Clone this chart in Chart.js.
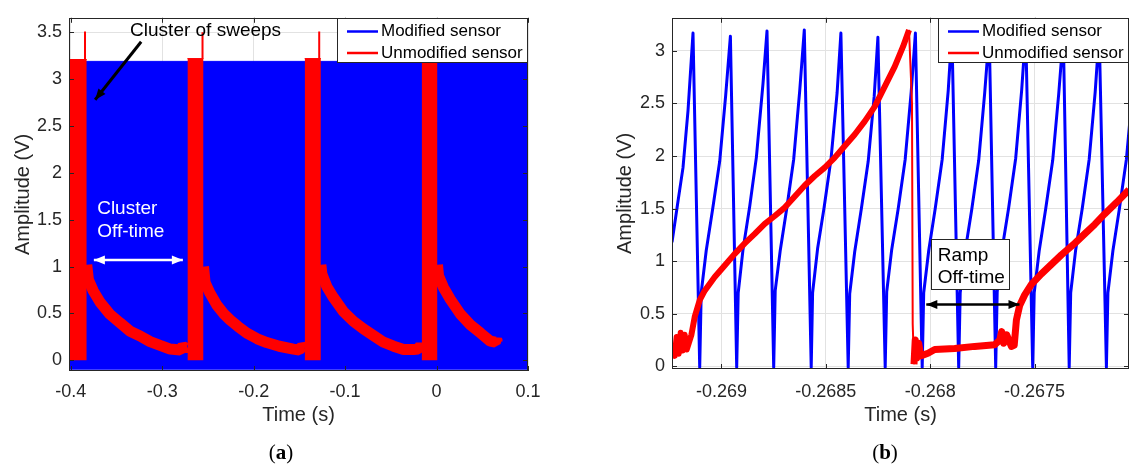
<!DOCTYPE html>
<html>
<head>
<meta charset="utf-8">
<title>Sensor output</title>
<script src="https://cdn.jsdelivr.net/npm/chart.js"></script>
<style>
  body { margin: 0; background: #fff; width: 1132px; height: 467px; position: relative; overflow: hidden; }
  .panel { position: absolute; top: 0; height: 467px; }
  #panelA { left: 0; width: 560px; }
  #panelB { left: 560px; width: 572px; }
  .caption { position: absolute; top: 440px; transform: translateX(-50%);
             font-family: "Liberation Serif", "DejaVu Serif", serif; font-size: 21px; color: #000; }
  .caption b { font-weight: bold; }
</style>
</head>
<body>
<div class="panel" id="panelA"><canvas id="chartA"></canvas></div>
<div class="panel" id="panelB"><canvas id="chartB"></canvas></div>
<div class="caption" style="left:281px">(<b>a</b>)</div>
<div class="caption" style="left:885px">(<b>b</b>)</div>
<script>
const seriesNames = ['Modified sensor', 'Unmodified sensor'];

// ---- (a) whole record ----
const timeTicksA = [-0.4, -0.3, -0.2, -0.1, 0, 0.1];
const ampTicksA = [0, 0.5, 1, 1.5, 2, 2.5, 3, 3.5];

// modified sensor: dense sweeps, kept as an envelope
const bandTime = [-0.4019, 0.1];
const bandTop = [3.19, 3.19];
const bandFloor = -0.1;

// unmodified sensor: sweep clusters
const clusterStart = [-0.4019, -0.2724, -0.1442, -0.0163];
const clusterEnd = [-0.3825, -0.2548, -0.1265, 0.0010];
const clusterTop = [3.21, 3.22, 3.22, 3.2];
const spikeTime = [-0.3844, -0.2559, -0.1283];
const spikeTop = [3.51, 3.5, 3.51];

// unmodified sensor: decay between clusters
const decay1Time = [-0.3825, -0.3807, -0.3753, -0.3679, -0.3570, -0.3461, -0.3351, -0.3242, -0.3132, -0.3023, -0.2913, -0.2804, -0.2775, -0.2745, -0.2724];
const decay1Amp = [1.02, 0.86, 0.74, 0.62, 0.49, 0.40, 0.31, 0.26, 0.20, 0.16, 0.12, 0.11, 0.15, 0.13, 0.14];
const decay2Time = [-0.2548, -0.2531, -0.2480, -0.2403, -0.2330, -0.2257, -0.2170, -0.2074, -0.1960, -0.1856, -0.1720, -0.1565, -0.1500, -0.1470, -0.1442];
const decay2Amp = [1.0, 0.83, 0.72, 0.59, 0.50, 0.43, 0.36, 0.29, 0.23, 0.19, 0.15, 0.12, 0.11, 0.15, 0.13];
const decay3Time = [-0.1265, -0.1254, -0.1199, -0.1127, -0.1018, -0.0908, -0.0799, -0.0689, -0.0580, -0.0470, -0.0361, -0.0252, -0.0200, -0.0175, -0.0163];
const decay3Amp = [1.02, 0.92, 0.785, 0.67, 0.52, 0.415, 0.335, 0.264, 0.193, 0.151, 0.116, 0.116, 0.12, 0.16, 0.14];
const decay4Time = [0.0010, 0.0022, 0.0077, 0.0150, 0.0260, 0.0369, 0.0478, 0.0588, 0.0643, 0.0655, 0.0661];
const decay4Amp = [1.02, 0.90, 0.775, 0.652, 0.494, 0.38, 0.293, 0.204, 0.193, 0.23, 0.2];

// ---- (b) zoom on one ramp ----
const timeTicksB = [-0.269, -0.2685, -0.268, -0.2675];
const ampTicksB = [0, 0.5, 1, 1.5, 2, 2.5, 3];

const modTime = [
  -0.2692366, -0.2692079, -0.2691839, -0.2691600, -0.2691360,
  -0.2691039, -0.2690967, -0.2690728, -0.2690417, -0.2690081, -0.2689794, -0.2689569,
  -0.2689267, -0.2689195, -0.2688966, -0.2688645, -0.2688324, -0.2688008, -0.2687816,
  -0.2687495, -0.2687423, -0.2687184, -0.2686873, -0.2686537, -0.2686250, -0.2686030,
  -0.2685699, -0.2685632, -0.2685393, -0.2685081, -0.2684746, -0.2684459, -0.2684277,
  -0.2683927, -0.2683855, -0.2683616, -0.2683305, -0.2682969, -0.2682682, -0.2682505,
  -0.2682155, -0.2682083, -0.2681844, -0.2681533, -0.2681197, -0.2680910, -0.2680709,
  -0.2680383, -0.2680311, -0.2680072, -0.2679761, -0.2679425, -0.2679138, -0.2678961,
  -0.2678635, -0.2678563, -0.2678324, -0.2678012, -0.2677677, -0.2677390, -0.2677174,
  -0.2676863, -0.2676791, -0.2676552, -0.2676240, -0.2675905, -0.2675618, -0.2675426,
  -0.2675091, -0.2675019, -0.2674780, -0.2674468, -0.2674133, -0.2673846, -0.2673625,
  -0.2673343, -0.2673271, -0.2673032, -0.2672720, -0.2672385, -0.2672098, -0.2671906,
  -0.2671561, -0.2671489, -0.2671250, -0.2670939, -0.2670603, -0.2670316
];
const modAmp = [
  1.18, 1.57, 1.89, 2.43, 3.17,
  -0.01, 0.70, 1.10, 1.50, 1.95, 2.58, 3.14,
  -0.01, 0.70, 1.11, 1.52, 1.99, 2.69, 3.19,
  -0.01, 0.72, 1.10, 1.50, 1.97, 2.62, 3.20,
  -0.01, 0.70, 1.12, 1.51, 1.98, 2.60, 3.17,
  -0.01, 0.69, 1.09, 1.49, 1.95, 2.57, 3.13,
  -0.01, 0.71, 1.11, 1.50, 1.97, 2.61, 3.17,
  -0.01, 0.70, 1.10, 1.50, 1.97, 2.62, 3.18,
  -0.01, 0.70, 1.10, 1.49, 1.96, 2.60, 3.16,
  -0.01, 0.71, 1.12, 1.51, 1.98, 2.63, 3.19,
  -0.01, 0.70, 1.10, 1.50, 1.96, 2.59, 3.15,
  -0.01, 0.70, 1.11, 1.50, 1.97, 2.61, 3.17,
  -0.01, 0.70, 1.10, 1.50, 1.97, 2.60
];

// unmodified sensor: one slow ramp, its reset, off-time and the next ramp
const rampTime = [
  -0.2692366, -0.2692237, -0.2692141, -0.2692045, -0.2691949, -0.2691853, -0.2691758, -0.2691662,
  -0.2691566, -0.2691437, -0.2691279, -0.2691039, -0.2690800, -0.2690321, -0.2689842, -0.2689363,
  -0.2688884, -0.2688405, -0.2687926, -0.2687447, -0.2686968, -0.2686489, -0.2686011, -0.2685532,
  -0.2685053, -0.2684574, -0.2684095, -0.2683616, -0.2683137, -0.2682658, -0.2682179, -0.2681700,
  -0.2681303, -0.2681015
];
const rampAmp = [
  0.16, 0.10, 0.28, 0.12, 0.32, 0.15, 0.30, 0.16,
  0.22, 0.30, 0.47, 0.63, 0.72, 0.85, 0.96, 1.07,
  1.17, 1.26, 1.355, 1.43, 1.51, 1.615, 1.72, 1.81,
  1.89, 1.985, 2.095, 2.205, 2.33, 2.47, 2.66, 2.85,
  3.04, 3.2
];
const resetTime = [-0.2681015, -0.2680872, -0.2680838, -0.2680776];
const resetAmp = [3.2, 2.5, 0.4, 0.02];
const idleTime = [
  -0.2680776, -0.2680718, -0.2680647, -0.2680551, -0.2680455, -0.2680105, -0.2679784, -0.2678827,
  -0.2677869, -0.2676911, -0.2676671, -0.2676576, -0.2676480, -0.2676336, -0.2676111, -0.2675977,
  -0.2675872, -0.2675714, -0.2675474, -0.2675153, -0.2674674, -0.2674195, -0.2673716, -0.2673079,
  -0.2672601, -0.2672122, -0.2671643, -0.2671068, -0.2670479
];
const idleAmp = [
  0.02, 0.25, 0.08, 0.22, 0.10, 0.125, 0.16, 0.17,
  0.19, 0.205, 0.25, 0.33, 0.22, 0.30, 0.19, 0.20,
  0.44, 0.58, 0.68, 0.78, 0.88, 0.97, 1.06, 1.17,
  1.26, 1.35, 1.45, 1.56, 1.68
];

const BLUE = '#0000ff';
const RED = '#ff0000';
const AXIS = '#262626';
const FONT = '"Liberation Sans", Arial, sans-serif';

function pts(xs, ys) {
  return xs.map((x, i) => ({ x: x, y: ys[i] }));
}

function line(xs, ys, color, width, join) {
  return { data: pts(xs, ys), borderColor: color, backgroundColor: color, borderWidth: width,
           showLine: true, pointRadius: 0, fill: false, borderJoinStyle: join || 'round', tension: 0 };
}

function fmt(v) {
  return String(Math.round(v * 1e4) / 1e4);
}

function drawArrow(ctx, x1, y1, x2, y2, color, width, both) {
  const head = (xa, ya, xb, yb) => {
    const ang = Math.atan2(yb - ya, xb - xa);
    ctx.beginPath();
    ctx.moveTo(xb, yb);
    ctx.lineTo(xb - 11 * Math.cos(ang) + 4.5 * Math.sin(ang), yb - 11 * Math.sin(ang) - 4.5 * Math.cos(ang));
    ctx.lineTo(xb - 11 * Math.cos(ang) - 4.5 * Math.sin(ang), yb - 11 * Math.sin(ang) + 4.5 * Math.cos(ang));
    ctx.closePath();
    ctx.fill();
  };
  ctx.strokeStyle = color;
  ctx.fillStyle = color;
  ctx.lineWidth = width;
  ctx.beginPath();
  ctx.moveTo(x1, y1);
  ctx.lineTo(x2, y2);
  ctx.stroke();
  head(x1, y1, x2, y2);
  if (both) head(x2, y2, x1, y1);
}

// box, inward ticks, notes and a MATLAB-like legend
const matlabAxes = {
  id: 'matlabAxes',
  afterDatasetsDraw(chart, args, opts) {
    const { ctx, chartArea: a, scales: { x, y } } = chart;
    ctx.save();
    ctx.strokeStyle = AXIS;
    ctx.lineWidth = 1;
    ctx.beginPath();
    x.ticks.forEach(t => {
      const px = Math.round(x.getPixelForValue(t.value)) + 0.5;
      ctx.moveTo(px, a.bottom); ctx.lineTo(px, a.bottom - 5);
      ctx.moveTo(px, a.top); ctx.lineTo(px, a.top + 5);
    });
    y.ticks.forEach(t => {
      const py = Math.round(y.getPixelForValue(t.value)) + 0.5;
      ctx.moveTo(a.left, py); ctx.lineTo(a.left + 5, py);
      ctx.moveTo(a.right, py); ctx.lineTo(a.right - 5, py);
    });
    ctx.stroke();
    ctx.strokeRect(Math.round(a.left) + 0.5, Math.round(a.top) + 0.5,
                   Math.round(a.width) - 1, Math.round(a.height) - 1);

    (opts.notes || []).forEach(n => {
      if (n.kind === 'box') {
        const x0 = x.getPixelForValue(n.x0), y0 = y.getPixelForValue(n.y0);
        const x1 = x.getPixelForValue(n.x1), y1 = y.getPixelForValue(n.y1);
        ctx.fillStyle = '#fff';
        ctx.fillRect(x0, y0, x1 - x0, y1 - y0);
        ctx.strokeStyle = AXIS;
        ctx.lineWidth = 1;
        ctx.strokeRect(Math.round(x0) + 0.5, Math.round(y0) + 0.5, Math.round(x1 - x0), Math.round(y1 - y0));
      } else if (n.kind === 'text') {
        ctx.fillStyle = n.color;
        ctx.font = '19px ' + FONT;
        ctx.textAlign = 'left';
        ctx.textBaseline = 'middle';
        ctx.fillText(n.text, x.getPixelForValue(n.x), y.getPixelForValue(n.y));
      } else if (n.kind === 'arrow') {
        drawArrow(ctx, x.getPixelForValue(n.x0), y.getPixelForValue(n.y0),
                  x.getPixelForValue(n.x1), y.getPixelForValue(n.y1), n.color, n.width, n.both);
      }
    });

    const lg = opts.legend;
    if (lg) {
      const x0 = Math.round(a.right - lg.width), y0 = Math.round(a.top);
      ctx.fillStyle = '#fff';
      ctx.fillRect(x0, y0, lg.width, lg.height);
      ctx.strokeStyle = AXIS;
      ctx.lineWidth = 1;
      ctx.strokeRect(x0 + 0.5, y0 + 0.5, lg.width - 1, lg.height - 1);
      [BLUE, RED].forEach((c, i) => {
        const yy = y0 + lg.rows[i];
        ctx.strokeStyle = c;
        ctx.lineWidth = 2.5;
        ctx.beginPath();
        ctx.moveTo(x0 + lg.lineFrom, yy);
        ctx.lineTo(x0 + lg.lineTo, yy);
        ctx.stroke();
        ctx.fillStyle = '#000';
        ctx.font = '17px ' + FONT;
        ctx.textAlign = 'left';
        ctx.textBaseline = 'middle';
        ctx.fillText(seriesNames[i], x0 + lg.textAt, yy);
      });
    }
    ctx.restore();
  }
};

function axes(cfg) {
  const tickFont = { family: FONT, size: 18 };
  const titleFont = { family: FONT, size: 20 };
  return {
    x: {
      type: 'linear', min: cfg.xMin, max: cfg.xMax,
      grid: { color: '#e2e2e2', drawTicks: false },
      border: { display: false },
      afterBuildTicks: s => { s.ticks = cfg.xTicks.map(v => ({ value: v })); },
      ticks: { color: AXIS, font: tickFont, padding: cfg.xPad, maxRotation: 0, autoSkip: false, callback: fmt },
      title: { display: true, text: 'Time (s)', color: AXIS, font: titleFont, padding: 0 },
      afterFit: s => { s.height = cfg.xHeight; }
    },
    y: {
      type: 'linear', min: cfg.yMin, max: cfg.yMax,
      grid: { color: '#e2e2e2', drawTicks: false },
      border: { display: false },
      afterBuildTicks: s => { s.ticks = cfg.yTicks.map(v => ({ value: v })); },
      ticks: { color: AXIS, font: tickFont, padding: 7, autoSkip: false, callback: fmt },
      title: { display: true, text: 'Amplitude (V)', color: AXIS, font: titleFont, padding: 0 },
      afterFit: s => { s.width = cfg.yWidth; }
    }
  };
}

function baseOptions(cfg, padding, notes) {
  return {
    responsive: true,
    maintainAspectRatio: false,
    animation: false,
    events: [],
    layout: { padding: padding },
    scales: axes(cfg),
    plugins: {
      legend: { display: false },
      tooltip: { enabled: false },
      matlabAxes: {
        legend: { width: 191, height: 45, rows: [13.5, 35], lineFrom: 10, lineTo: 41, textAt: 44 },
        notes: notes
      }
    }
  };
}

// ---- chart (a) ----
const dsA = [];
clusterStart.forEach((s, i) => {
  dsA.push({ data: pts([s, clusterEnd[i]], [clusterTop[i], clusterTop[i]]), borderColor: RED,
             backgroundColor: RED, borderWidth: 1, showLine: true, pointRadius: 0, fill: { value: 0 } });
});
spikeTime.forEach((t, i) => {
  dsA.push(line([t, t], [clusterTop[i], spikeTop[i]], RED, 2));
});
[[decay1Time, decay1Amp], [decay2Time, decay2Amp], [decay3Time, decay3Amp], [decay4Time, decay4Amp]]
  .forEach(d => dsA.push(line(d[0], d[1], RED, 11, 'bevel')));
dsA.push({ label: seriesNames[0], data: pts(bandTime, bandTop), borderColor: BLUE, backgroundColor: BLUE,
           borderWidth: 1, showLine: true, pointRadius: 0, fill: { value: bandFloor } });
dsA[0].label = seriesNames[1];

new Chart(document.getElementById('chartA'), {
  type: 'scatter',
  data: { datasets: dsA },
  options: baseOptions(
    { xMin: -0.4019, xMax: 0.1, xTicks: timeTicksA, yMin: -0.114, yMax: 3.655, yTicks: ampTicksA,
      xPad: 10, xHeight: 56, yWidth: 58 },
    { left: 11, right: 32, top: 16, bottom: 40 },
    [
      { kind: 'text', text: 'Cluster of sweeps', x: -0.3351, y: 3.52, color: '#000' },
      { kind: 'arrow', x0: -0.323, y0: 3.40, x1: -0.3733, y1: 2.78, color: '#000', width: 3 },
      { kind: 'text', text: 'Cluster', x: -0.3711, y: 1.62, color: '#fff' },
      { kind: 'text', text: 'Off-time', x: -0.3711, y: 1.37, color: '#fff' },
      { kind: 'arrow', x0: -0.3747, y0: 1.07, x1: -0.2774, y1: 1.07, color: '#fff', width: 2.5, both: true }
    ]
  ),
  plugins: [matlabAxes]
});

// ---- chart (b) ----
const dsB = [
  Object.assign(line(rampTime, rampAmp, RED, 6), { label: seriesNames[1] }),
  line(resetTime, resetAmp, RED, 2),
  line(idleTime, idleAmp, RED, 7),
  Object.assign(line(modTime, modAmp, BLUE, 3), { label: seriesNames[0] })
];

new Chart(document.getElementById('chartB'), {
  type: 'scatter',
  data: { datasets: dsB },
  options: baseOptions(
    { xMin: -0.2692366, xMax: -0.2670479, xTicks: timeTicksB, yMin: -0.025, yMax: 3.315, yTicks: ampTicksB,
      xPad: 12, xHeight: 58, yWidth: 59 },
    { left: 53, right: 3, top: 16, bottom: 40 },
    [
      { kind: 'box', x0: -0.2679943, y0: 1.207, x1: -0.2676192, y1: 0.732 },
      { kind: 'text', text: 'Ramp', x: -0.2679641, y: 1.049, color: '#000' },
      { kind: 'text', text: 'Off-time', x: -0.2679641, y: 0.841, color: '#000' },
      { kind: 'arrow', x0: -0.2680187, y0: 0.588, x1: -0.2675723, y1: 0.588, color: '#000', width: 2.5, both: true }
    ]
  ),
  plugins: [matlabAxes]
});
</script>
</body>
</html>
